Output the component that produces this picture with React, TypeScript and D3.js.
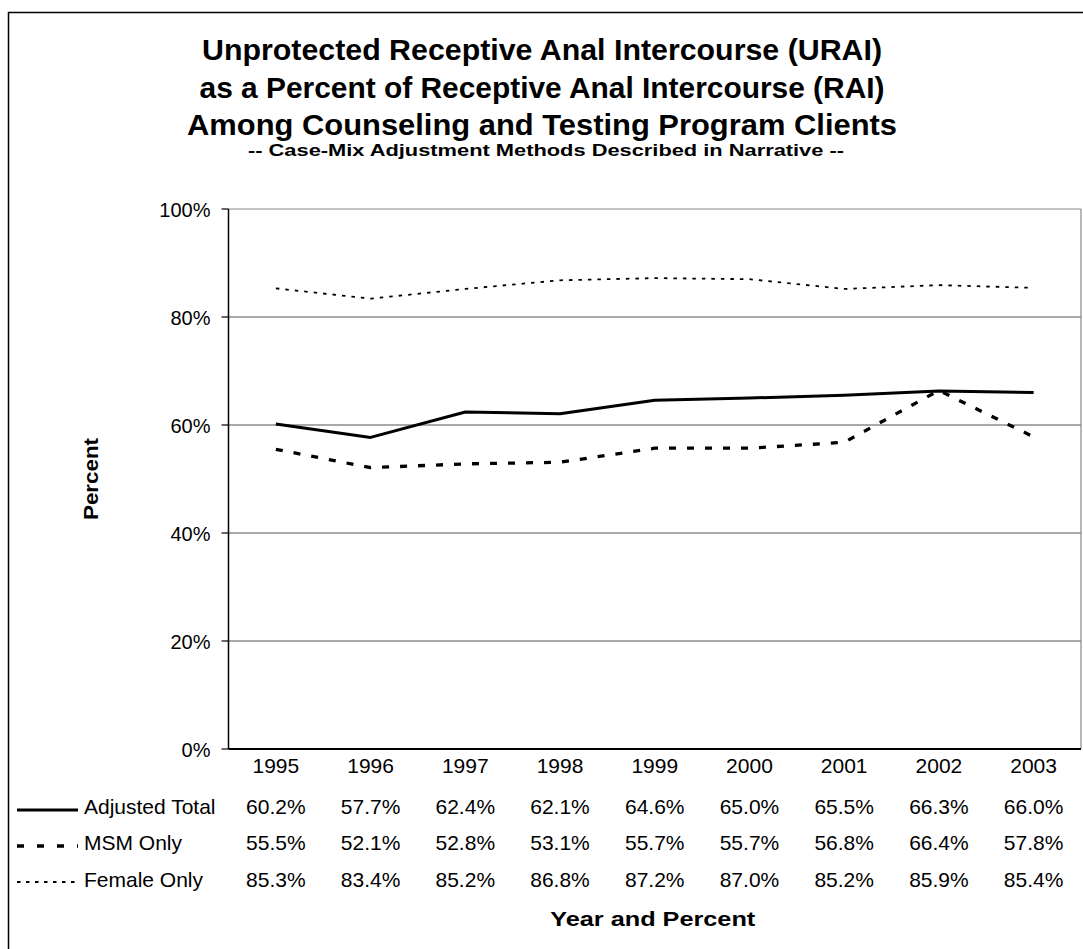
import * as d3 from 'd3'

const years = ['1995', '1996', '1997', '1998', '1999', '2000', '2001', '2002', '2003']
const adjustedTotal = [60.2, 57.7, 62.4, 62.1, 64.6, 65.0, 65.5, 66.3, 66.0]
const msmOnly = [55.5, 52.1, 52.8, 53.1, 55.7, 55.7, 56.8, 66.4, 57.8]
const femaleOnly = [85.3, 83.4, 85.2, 86.8, 87.2, 87.0, 85.2, 85.9, 85.4]
const yTicks = [0, 20, 40, 60, 80, 100]
const titleLines = [
  'Unprotected Receptive Anal Intercourse (URAI)',
  'as a Percent of Receptive Anal Intercourse (RAI)',
  'Among Counseling and Testing Program Clients',
]
const subtitle = '-- Case-Mix Adjustment Methods Described in Narrative --'

const series = [
  { name: 'Adjusted Total', values: adjustedTotal, width: 3, dash: '', legendDash: '' },
  { name: 'MSM Only', values: msmOnly, width: 3.3, dash: '7,11', legendDash: '7,13' },
  { name: 'Female Only', values: femaleOnly, width: 1.8, dash: '3.5,6', legendDash: '3.5,5.5' },
]

const W = 1083
const H = 949
const plot = { left: 228.5, right: 1081, top: 209, bottom: 749 }
const font = '"Liberation Sans", Arial, sans-serif'

// widths of the title lines as measured in the reference
const titleWidths = [680, 685, 710]

export default function App() {
  const x = d3.scaleBand().domain(years).range([plot.left, plot.right])
  const y = d3.scaleLinear().domain([0, 100]).range([plot.bottom, plot.top])
  const cx = (d: string) => (x(d) as number) + x.bandwidth() / 2

  const line = d3.line<number>()
    .x((v, i) => cx(years[i]))
    .y(v => y(v))

  const rowY = [814, 850, 887]
  const legendY = [810, 846, 882]
  const midX = (plot.left + plot.right) / 2

  return (
    <svg width={W} height={H} style={{ position: 'absolute', left: 0, top: 0, fontFamily: font }}>
      <rect x={0} y={0} width={W} height={H} fill="#fff" />
      <rect x={8.5} y={12.5} width={1200} height={1000} fill="none" stroke="#000" strokeWidth={1.5} />

      {titleLines.map((t, i) => (
        <text key={t} x={542} y={60 + i * 37.5} textAnchor="middle" fontSize={29} fontWeight="bold"
          textLength={titleWidths[i]} lengthAdjust="spacingAndGlyphs">{t}</text>
      ))}
      <text x={546} y={156} textAnchor="middle" fontSize={17} fontWeight="bold"
        textLength={596} lengthAdjust="spacingAndGlyphs">{subtitle}</text>

      {/* grid */}
      {yTicks.filter(t => t > 0).map(t => (
        <line key={t} x1={plot.left} x2={plot.right} y1={y(t)} y2={y(t)} stroke={t === 100 ? '#888' : '#555'} strokeWidth={1.2} />
      ))}
      <line x1={plot.right} x2={plot.right} y1={plot.top} y2={plot.bottom} stroke="#888" strokeWidth={1.2} />

      {/* y axis */}
      <line x1={plot.left} x2={plot.left} y1={plot.top} y2={plot.bottom} stroke="#000" strokeWidth={1.5} />
      {yTicks.map(t => (
        <g key={t}>
          <line x1={plot.left - 7} x2={plot.left} y1={y(t)} y2={y(t)} stroke="#000" strokeWidth={1.2} />
          <text x={plot.left - 18} y={y(t) + 7.5} textAnchor="end" fontSize={20}>{t}%</text>
        </g>
      ))}
      <line x1={plot.left} x2={plot.right} y1={plot.bottom} y2={plot.bottom} stroke="#000" strokeWidth={1.8} />

      <text transform={`translate(98,${(plot.top + plot.bottom) / 2}) rotate(-90)`} textAnchor="middle" fontSize={21} fontWeight="bold"
        textLength={82} lengthAdjust="spacingAndGlyphs">Percent</text>

      {/* lines */}
      {series.map(s => (
        <path key={s.name} d={line(s.values) ?? ''} fill="none" stroke="#000" strokeWidth={s.width} strokeDasharray={s.dash} strokeLinejoin="round" />
      ))}

      {/* data table */}
      {years.map(yr => (
        <text key={yr} x={cx(yr)} y={773} textAnchor="middle" fontSize={21}>{yr}</text>
      ))}
      {series.map((s, r) => (
        <g key={s.name}>
          <line x1={17} x2={78} y1={legendY[r]} y2={legendY[r]} stroke="#000" strokeWidth={s.width} strokeDasharray={s.legendDash} />
          <text x={84} y={rowY[r]} fontSize={21}>{s.name}</text>
          {s.values.map((v, i) => (
            <text key={i} x={cx(years[i])} y={rowY[r]} textAnchor="middle" fontSize={21}>{v.toFixed(1)}%</text>
          ))}
        </g>
      ))}

      <text x={midX - 2} y={926} textAnchor="middle" fontSize={21} fontWeight="bold"
        textLength={205} lengthAdjust="spacingAndGlyphs">Year and Percent</text>
    </svg>
  )
}
